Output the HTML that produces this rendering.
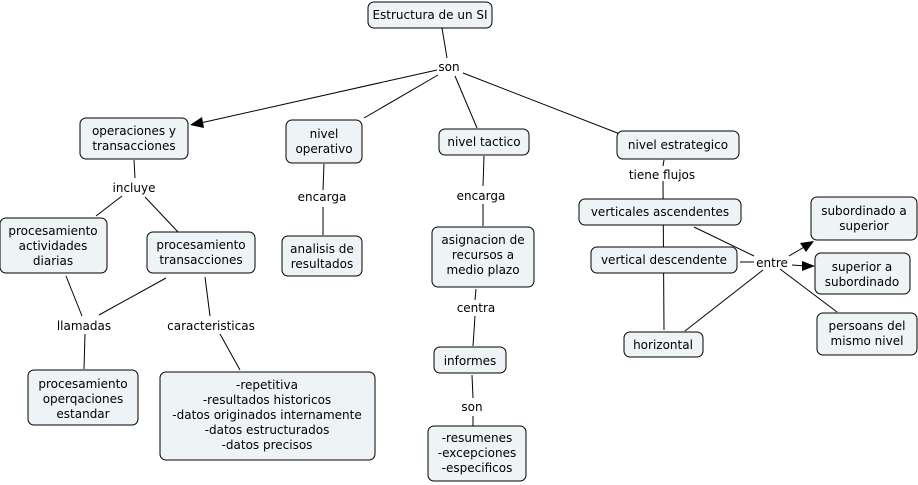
<!DOCTYPE html>
<html><head><meta charset="utf-8"><style>
html,body{margin:0;padding:0;background:#fff;}
svg{display:block;}
text{font-family:"DejaVu Sans","Liberation Sans",sans-serif;font-size:12px;fill:#000;}
rect{fill:#eef3f6;stroke:#000;stroke-width:1;}
line{stroke:#000;stroke-width:1;}
</style></head><body>
<svg width="918" height="485" viewBox="0 0 918 485" xmlns="http://www.w3.org/2000/svg">
<g>
<line x1="442" y1="28" x2="447" y2="58"/>
<line x1="437" y1="70" x2="196" y2="124"/>
<polygon points="190,125 202,117 204,128" fill="#000"/>
<line x1="438" y1="75" x2="364" y2="118"/>
<line x1="455" y1="76" x2="477" y2="128"/>
<line x1="463" y1="73" x2="620" y2="134"/>
<line x1="134" y1="160" x2="135" y2="178"/>
<line x1="122" y1="196" x2="96" y2="216"/>
<line x1="145" y1="197" x2="178" y2="232"/>
<line x1="324" y1="164" x2="323" y2="190"/>
<line x1="323" y1="207" x2="323" y2="235"/>
<line x1="484" y1="156" x2="483" y2="186"/>
<line x1="483" y1="204" x2="483" y2="226"/>
<line x1="664" y1="160" x2="663" y2="166"/>
<line x1="663" y1="181" x2="664" y2="330"/>
<line x1="694" y1="227" x2="754" y2="256"/>
<line x1="740" y1="262" x2="754" y2="262"/>
<line x1="685" y1="331" x2="763" y2="270"/>
<line x1="789" y1="256" x2="806" y2="246"/>
<polygon points="814,241 800,243 806,252" fill="#000"/>
<line x1="792" y1="265" x2="806" y2="266"/>
<polygon points="815,266 802,261 802,271" fill="#000"/>
<line x1="780" y1="269" x2="837" y2="312"/>
<line x1="66" y1="276" x2="82" y2="316"/>
<line x1="166" y1="278" x2="99" y2="315"/>
<line x1="85" y1="334" x2="84" y2="369"/>
<line x1="205" y1="277" x2="210" y2="316"/>
<line x1="220" y1="334" x2="240" y2="370"/>
<line x1="476" y1="289" x2="475" y2="300"/>
<line x1="475" y1="316" x2="473" y2="346"/>
<line x1="472" y1="375" x2="473" y2="398"/>
<line x1="473" y1="416" x2="473" y2="426"/>
</g>
<g>
<rect x="368" y="2" width="124" height="26" rx="6"/>
<rect x="80" y="118" width="108" height="41" rx="6"/>
<rect x="286" y="120" width="76" height="43" rx="6"/>
<rect x="439" y="129" width="90" height="26" rx="6"/>
<rect x="617" y="131" width="122" height="28" rx="6"/>
<rect x="0" y="218" width="107" height="55" rx="6"/>
<rect x="147" y="232" width="108" height="41" rx="6"/>
<rect x="282" y="236" width="80" height="40" rx="6"/>
<rect x="432" y="227" width="102" height="60" rx="6"/>
<rect x="579" y="199" width="162" height="26" rx="6"/>
<rect x="591" y="247" width="146" height="26" rx="6"/>
<rect x="624" y="332" width="79" height="25" rx="6"/>
<rect x="811" y="197" width="106" height="43" rx="6"/>
<rect x="815" y="253" width="95" height="41" rx="6"/>
<rect x="817" y="313" width="100" height="42" rx="6"/>
<rect x="28" y="370" width="110" height="55" rx="6"/>
<rect x="160" y="372" width="215" height="88" rx="6"/>
<rect x="434" y="347" width="72" height="26" rx="6"/>
<rect x="428" y="426" width="98" height="55" rx="6"/>
</g>
<g text-anchor="middle">
<text x="430" y="19">Estructura de un SI</text>
<text x="134" y="135">operaciones y</text><text x="134" y="150">transacciones</text>
<text x="324" y="138">nivel</text><text x="324" y="153">operativo</text>
<text x="484" y="146">nivel tactico</text>
<text x="678" y="149">nivel estrategico</text>
<text x="53" y="235">procesamiento</text><text x="53" y="250">actividades</text><text x="53" y="265">diarias</text>
<text x="201" y="249">procesamiento</text><text x="201" y="264">transacciones</text>
<text x="322" y="253">analisis de</text><text x="322" y="268">resultados</text>
<text x="483" y="244">asignacion de</text><text x="483" y="259">recursos a</text><text x="483" y="274">medio plazo</text>
<text x="660" y="216">verticales ascendentes</text>
<text x="664" y="264">vertical descendente</text>
<text x="663" y="349">horizontal</text>
<text x="864" y="215">subordinado a</text><text x="864" y="230">superior</text>
<text x="862" y="271">superior a</text><text x="862" y="286">subordinado</text>
<text x="867" y="330">persoans del</text><text x="867" y="345">mismo nivel</text>
<text x="83" y="388">procesamiento</text><text x="83" y="403">operqaciones</text><text x="83" y="418">estandar</text>
<text x="267" y="389">-repetitiva</text><text x="267" y="404">-resultados historicos</text><text x="267" y="419">-datos originados internamente</text><text x="267" y="434">-datos estructurados</text><text x="267" y="449">-datos precisos</text>
<text x="470" y="365">informes</text>
<text x="477" y="442">-resumenes</text><text x="477" y="457">-excepciones</text><text x="477" y="472">-especificos</text>
<text x="449" y="71">son</text>
<text x="134" y="192">incluye</text>
<text x="322" y="201">encarga</text>
<text x="481" y="200">encarga</text>
<text x="662" y="179">tiene flujos</text>
<text x="772" y="267">entre</text>
<text x="84" y="330">llamadas</text>
<text x="211" y="330">caracteristicas</text>
<text x="476" y="312">centra</text>
<text x="472" y="411">son</text>
</g>
</svg>
</body></html>
